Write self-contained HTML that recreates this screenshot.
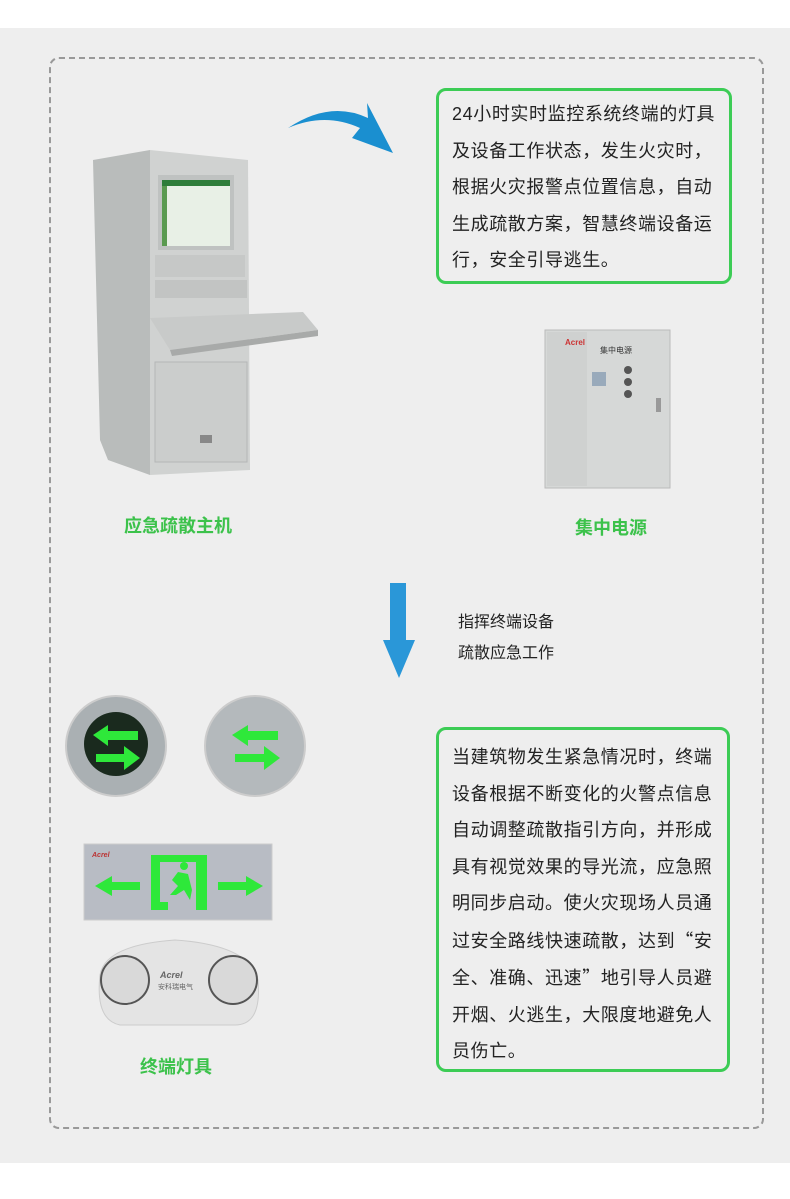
<!DOCTYPE html>
<html><head><meta charset="utf-8"><style>
*{margin:0;padding:0;box-sizing:border-box}
body{width:790px;height:1199px;background:#fff;position:relative;overflow:hidden;font-family:"Liberation Sans","Noto Sans CJK SC",sans-serif}
.bg{position:absolute;left:0;top:28px;width:790px;height:1135px;background:#eeeeee}
.dash{position:absolute;left:49px;top:57px;width:715px;height:1072px;border:2px dashed #999;border-radius:10px}
.box{position:absolute;border:3px solid #3ccc55;border-radius:10px;background:#eee;font-size:18px;letter-spacing:0.6px;color:#222;line-height:36.5px;padding:0 0 0 13px;white-space:nowrap}
.lbl{position:absolute;color:#3cc24b;font-weight:bold;font-size:18px;transform:translateX(-50%);white-space:nowrap}
.t{position:absolute;font-size:16px;color:#222}
.q{font-family:"Noto Sans CJK SC",sans-serif}
</style></head><body>
<div class="bg"></div>
<div class="dash"></div>

<svg style="position:absolute;left:0;top:0" width="790" height="1199">
 <path d="M288 128 Q330 100 368 118 L367 103 L393 153 L352 138 L360 128 Q325 112 288 128Z" fill="#1a8fd0"/>
 <path d="M390 583 L406 583 L406 640 L415 640 L399 678 L383 640 L390 640Z" fill="#2a97d8"/>
 <polygon points="93,160 150,150 150,475 108,460 100,440" fill="#b9bcbb"/>
 <polygon points="150,150 248,160 250,470 150,475" fill="#d0d2d1"/>
 <rect x="158" y="175" width="76" height="75" fill="#bfc2c1"/>
 <rect x="162" y="180" width="68" height="66" fill="#e8f0e6"/>
 <rect x="162" y="180" width="68" height="6" fill="#2e7d3a"/>
 <rect x="162" y="186" width="5" height="60" fill="#5a9a50"/>
 <rect x="155" y="255" width="90" height="22" fill="#c6c8c7"/>
 <rect x="155" y="280" width="92" height="18" fill="#c2c4c3"/>
 <polygon points="150,318 303,312 318,330 170,350" fill="#c8cac9"/>
 <polygon points="170,350 318,330 318,336 172,356" fill="#a8aaa9"/>
 <rect x="155" y="362" width="92" height="100" fill="#cbcdcc" stroke="#b5b7b6"/>
 <rect x="200" y="435" width="12" height="8" fill="#888"/>
 <rect x="545" y="330" width="125" height="158" fill="#d6d8d7" stroke="#bbb"/>
 <rect x="547" y="332" width="40" height="154" fill="#cfd1d0"/>
 <text x="565" y="345" font-size="8" fill="#c33" font-weight="bold" font-family="Liberation Sans">Acrel</text>
 <text x="600" y="353" font-size="8" fill="#333" font-family="Noto Sans CJK SC">集中电源</text>
 <rect x="592" y="372" width="14" height="14" fill="#9ab" />
 <circle cx="628" cy="370" r="4" fill="#555"/><circle cx="628" cy="382" r="4" fill="#555"/><circle cx="628" cy="394" r="4" fill="#555"/>
 <rect x="656" y="398" width="5" height="14" fill="#999"/>
 <circle cx="116" cy="746" r="50" fill="#aab0b3" stroke="#ccc" stroke-width="2"/>
 <circle cx="116" cy="744" r="32" fill="#1a2a1e"/>
 <path d="M93 735 L108 725 L108 731 L138 731 L138 740 L108 740 L108 746Z" fill="#2ee83a"/>
 <path d="M140 758 L124 770 L124 762 L96 762 L96 754 L124 754 L124 746Z" fill="#2ee83a"/>
 <circle cx="255" cy="746" r="50" fill="#b4b9bc" stroke="#ccc" stroke-width="2"/>
 <path d="M232 735 L248 725 L248 731 L278 731 L278 740 L248 740 L248 746Z" fill="#2ee83a"/>
 <path d="M280 758 L264 770 L264 762 L235 762 L235 754 L264 754 L264 746Z" fill="#2ee83a"/>
 <rect x="84" y="844" width="188" height="76" fill="#b8bcc4" stroke="#ccc"/>
 <text x="92" y="857" font-size="7" fill="#b33" font-weight="bold" font-style="italic" font-family="Liberation Sans">Acrel</text>
 <path d="M95 886 L112 876 L112 882 L140 882 L140 890 L112 890 L112 896Z" fill="#2ee83a"/>
 <path d="M263 886 L246 876 L246 882 L218 882 L218 890 L246 890 L246 896Z" fill="#2ee83a"/>
 <path d="M151 855 L207 855 L207 910 L196 910 L196 862 L160 862 L160 902 L168 902 L168 910 L151 910Z" fill="#2ee83a"/>
 <circle cx="184" cy="866" r="4" fill="#2ee83a"/>
 <path d="M178 872 L188 874 L192 890 L190 900 L184 890 L176 895 L170 895 L178 886 L172 880Z" fill="#2ee83a"/>
 <path d="M100 975 Q105 945 175 940 Q250 945 258 980 Q262 1025 235 1025 L120 1025 Q95 1020 100 975Z" fill="#e4e4e4" stroke="#ccc"/>
 <circle cx="125" cy="980" r="24" fill="#d9d9d9" stroke="#555" stroke-width="2"/>
 <circle cx="233" cy="980" r="24" fill="#d9d9d9" stroke="#555" stroke-width="2"/>
 <text x="160" y="978" font-size="9" fill="#666" font-weight="bold" font-style="italic" font-family="Liberation Sans">Acrel</text>
 <text x="158" y="989" font-size="7" fill="#666" font-family="Noto Sans CJK SC">安科瑞电气</text>
</svg>

<div class="box" style="left:436px;top:88px;width:296px;height:196px;padding-top:5px">24小时实时监控系统终端的灯具<br>及设备工作状态，发生火灾时，<br>根据火灾报警点位置信息，自动<br>生成疏散方案，智慧终端设备运<br>行，安全引导逃生。</div>

<div class="box" style="left:436px;top:727px;width:294px;height:345px;padding-top:9px">当建筑物发生紧急情况时，终端<br>设备根据不断变化的火警点信息<br>自动调整疏散指引方向，并形成<br>具有视觉效果的导光流，应急照<br>明同步启动。使火灾现场人员通<br>过安全路线快速疏散，达到<span class="q">“</span>安<br>全、准确、迅速<span class="q">”</span>地引导人员避<br>开烟、火逃生，大限度地避免人<br>员伤亡。</div>

<div class="lbl" style="left:178px;top:512px">应急疏散主机</div>
<div class="lbl" style="left:611px;top:514px">集中电源</div>
<div class="lbl" style="left:176px;top:1053px">终端灯具</div>
<div class="t" style="left:458px;top:608px">指挥终端设备</div>
<div class="t" style="left:458px;top:639px">疏散应急工作</div>
</body></html>
